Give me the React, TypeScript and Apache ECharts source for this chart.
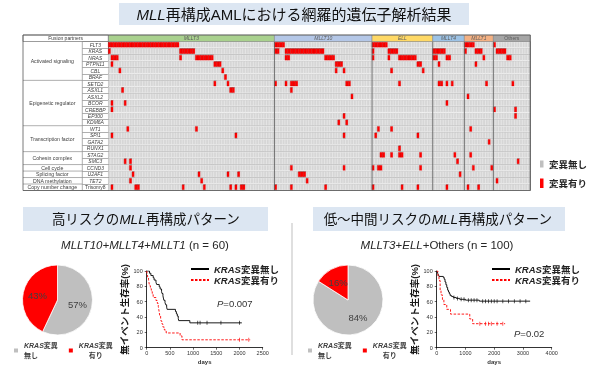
import React, { useEffect, useRef } from 'react';
import * as echarts from 'echarts';

const FONT = "'Liberation Sans', 'Noto Sans CJK JP', sans-serif";

// ---------- Oncoprint data ----------
const genes = ['FLT3', 'KRAS', 'NRAS', 'PTPN11', 'CBL', 'BRAF', 'SETD2', 'ASXL1', 'ASXL2', 'BCOR', 'CREBBP', 'EP300', 'KDM6A', 'WT1', 'SPI1', 'GATA2', 'RUNX1', 'STAG2', 'SMC3', 'CCND3', 'U2AF1', 'TET2', 'Trisomy8'];
const geneGroupNames = ['Activated signaling', 'Epigenetic regulator', 'Transcription factor', 'Cohesin complex', 'Cell cycle', 'Splicing factor', 'DNA methylation', 'Copy number change'];
const geneGroupSizes = [6, 7, 4, 2, 1, 1, 1, 1];

const fusionNames = ['MLLT3', 'MLLT10', 'ELL', 'MLLT4', 'MLLT1', 'Others'];
const fusionCounts = [63, 37, 23, 12, 11, 14];
const fusionColors = ['#a9d18e', '#b4c7e7', '#ffd966', '#9dc3e6', '#f4b183', '#a6a6a6'];

// mutated patient indices per gene (same order as genes)
const mutatedPatients: number[][] = [
  /* FLT3 */ [0, 1, 2, 3, 4, 5, 6, 7, 8, 9, 10, 11, 12, 13, 14, 15, 16, 17, 18, 19, 20, 21, 22, 23, 24, 25, 26, 63, 64, 65, 66, 100, 101, 102, 103, 104, 105, 135, 136, 137, 138, 146],
  /* KRAS */ [0, 27, 28, 29, 30, 31, 32, 63, 64, 67, 68, 69, 70, 71, 72, 73, 74, 75, 76, 77, 78, 79, 80, 81, 100, 106, 107, 108, 109, 123, 124, 125, 126, 127, 135, 139, 140, 141, 147, 148, 149, 150],
  /* NRAS */ [1, 2, 3, 27, 33, 34, 35, 36, 37, 38, 39, 67, 68, 82, 83, 84, 85, 100, 106, 110, 111, 112, 113, 114, 115, 116, 123, 124, 128, 129, 142, 151, 152],
  /* PTPN11 */ [1, 40, 41, 42, 86, 87, 88, 117, 118, 125, 139],
  /* CBL */ [4, 43, 86, 89, 107, 119],
  /* BRAF */ [44],
  /* SETD2 */ [40, 45, 63, 67, 69, 70, 71, 90, 91, 110, 125, 126, 128, 130, 143, 153],
  /* ASXL1 */ [5, 46, 47, 69],
  /* ASXL2 */ [92, 136],
  /* BCOR */ [1, 6, 128],
  /* CREBBP */ [1, 146, 154],
  /* EP300 */ [89, 154],
  /* KDM6A */ [87, 90],
  /* WT1 */ [7, 33, 102, 107, 137],
  /* SPI1 */ [1, 48, 89, 101, 117],
  /* GATA2 */ [144],
  /* RUNX1 */ [110],
  /* STAG2 */ [103, 104, 107, 110, 111, 118, 131, 137],
  /* SMC3 */ [6, 8, 132, 155],
  /* CCND3 */ [8, 69, 89, 100, 102, 103, 118, 138, 145],
  /* U2AF1 */ [9, 34, 45, 49, 72, 73, 74, 133],
  /* TET2 */ [8, 35, 75, 147],
  /* Trisomy8 */ [1, 10, 11, 28, 36, 46, 48, 50, 51, 63, 69, 82, 100, 111, 117, 128, 136, 140],
];

// ---------- Pie data ----------
const pieNames = ['nomut', 'mut'];
const pieColors = ['#bfbfbf', '#ff0000'];
const pieHighRisk = [57, 43];
const pieLowRisk = [84, 16];

// ---------- Kaplan-Meier data (days, % event-free) ----------
const kmHighNoMut = [[0, 100], [60, 97.1], [90, 94.1], [140, 91.2], [160, 88.2], [200, 85.3], [215, 82.4], [270, 79.4], [290, 76.5], [320, 73.5], [330, 70.6], [350, 67.6], [360, 64.7], [370, 61.8], [395, 58.8], [410, 55.9], [430, 52.9], [440, 50], [620, 47.1], [640, 44.1], [660, 41.2], [680, 38.2], [690, 35.3], [930, 32.4], [2050, 32.4]];
const kmHighMut = [[0, 100], [10, 96.2], [20, 92.3], [40, 88.5], [50, 84.6], [60, 80.8], [80, 76.9], [100, 73.1], [120, 69.2], [140, 65.4], [200, 61.5], [230, 57.7], [250, 53.8], [260, 50], [270, 46.2], [280, 42.3], [300, 38.5], [310, 34.6], [330, 30.8], [350, 26.9], [380, 23.1], [420, 19.2], [720, 15.4], [760, 10.3], [2230, 10.3]];
const kmHighNoMutCensor = [[1100, 32.4], [1150, 32.4], [1300, 32.4], [1600, 32.4], [2000, 32.4]];
const kmHighMutCensor = [[2000, 10.3], [2200, 10.3]];

const kmLowNoMut = [[0, 100], [20, 98.8], [40, 96.4], [60, 95.2], [80, 92.9], [230, 91.7], [260, 89.3], [290, 85.7], [320, 82.1], [350, 78.6], [380, 75], [410, 72.6], [440, 70.2], [470, 67.9], [520, 66.7], [580, 65.5], [680, 64.3], [800, 63.1], [1000, 62], [1480, 60.7], [3250, 60.7]];
const kmLowMut = [[0, 100], [40, 93.8], [80, 87.5], [120, 75], [150, 68.8], [200, 62.5], [250, 56.3], [350, 50], [480, 43.8], [1150, 37.5], [1250, 31.3], [2380, 31.3]];
const kmLowNoMutCensor = [[600, 65.5], [720, 64.3], [850, 63.1], [950, 63.1], [1100, 62], [1200, 62], [1300, 62], [1400, 62], [1600, 60.7], [1700, 60.7], [1800, 60.7], [1900, 60.7], [2000, 60.7], [2100, 60.7], [2300, 60.7], [2500, 60.7], [2700, 60.7], [2900, 60.7], [3100, 60.7]];
const kmLowMutCensor = [[1500, 31.3], [1700, 31.3], [1800, 31.3], [1900, 31.3], [2100, 31.3], [2300, 31.3]];

const kmHighTicks = { max: 2500, interval: 500 };
const kmLowTicks = { max: 4000, interval: 1000 };

export default function App() {
  const ref = useRef<HTMLDivElement>(null);

  useEffect(() => {
    const chart = echarts.init(ref.current!, null, { renderer: 'svg' });
    const nPatients = fusionCounts.reduce((a, b) => a + b, 0);
    const patientIds = Array.from({ length: nPatients }, (_, i) => 'P' + (i + 1));

    const cells: number[][] = [];
    genes.forEach((g, r) => {
      const set = new Set(mutatedPatients[r]);
      for (let c = 0; c < nPatients; c++) cells.push([c, r, set.has(c) ? 1 : 0]);
    });

    const fusionData: number[][] = [];
    let acc = 0;
    fusionCounts.forEach((n, i) => { fusionData.push([acc, 0, acc + n - 1, i]); acc += n; });

    const groupData: number[][] = [];
    let rAcc = 0;
    geneGroupSizes.forEach((n, i) => { groupData.push([0, rAcc, rAcc + n - 1, i]); rAcc += n; });

    const kmAxisX = (t: { max: number; interval: number }, gi: number) => ({
      gridIndex: gi, type: 'value', min: 0, max: t.max, interval: t.interval,
      name: 'days', nameLocation: 'middle', nameGap: 11,
      nameTextStyle: { fontSize: 6, fontWeight: 'bold', color: '#333', fontFamily: FONT },
      axisLine: { lineStyle: { color: '#000', width: 0.8 } },
      axisTick: { length: 2, lineStyle: { color: '#000', width: 0.6 } },
      axisLabel: { fontSize: 5.5, color: '#333', margin: 3, fontFamily: FONT, formatter: (v: number) => String(v) },
      splitLine: { show: false },
    });
    const kmAxisY = (gi: number) => ({
      gridIndex: gi, type: 'value', min: 0, max: 100, interval: 20,
      name: '無イベント生存率(%)', nameLocation: 'middle', nameRotate: 90, nameGap: 16,
      nameTextStyle: { fontSize: 9.5, color: '#1a1a1a', fontWeight: 'bold', fontFamily: FONT },
      axisLine: { show: true, lineStyle: { color: '#000', width: 0.8 } },
      axisTick: { show: true, length: 2, lineStyle: { color: '#000', width: 0.6 } },
      axisLabel: { fontSize: 5.5, color: '#333', margin: 4, fontFamily: FONT },
      splitLine: { show: false },
    });

    const kmLine = (name: string, data: number[][], color: string, dashed: boolean, gi: number) => ({
      type: 'line', name, xAxisIndex: gi, yAxisIndex: gi, data, step: 'end', symbol: 'none',
      lineStyle: { color, width: 0.9, type: dashed ? [2.5, 1.5] : 'solid' }, itemStyle: { color }, silent: true,
    });
    const kmCensor = (data: number[][], color: string, gi: number) => ({
      type: 'scatter', name: 'censor', xAxisIndex: gi, yAxisIndex: gi, data, symbol: 'rect', symbolSize: [0.8, 4],
      itemStyle: { color }, silent: true,
    });

    const pie = (center: number[], values: number[]) => ({
      type: 'pie', center, radius: 35, startAngle: 90, clockwise: true, silent: true,
      data: values.map((v, i) => ({ name: pieNames[i], value: v, itemStyle: { color: pieColors[i] } })),
      itemStyle: { borderColor: '#fff', borderWidth: 0.8 },
      label: { position: 'inside', formatter: '{c}%', fontSize: 9.5, color: '#404040', fontFamily: FONT },
      labelLine: { show: false },
    });

    const pieRich = {
      k: { fontStyle: 'italic', fontWeight: 'bold', fontSize: 7, color: '#404040', fontFamily: FONT, lineHeight: 10 },
      t: { fontWeight: 'bold', fontSize: 7, color: '#404040', fontFamily: FONT, lineHeight: 10 },
      c: { fontWeight: 'bold', fontSize: 7, color: '#404040', fontFamily: FONT, lineHeight: 10, align: 'center' },
    };
    const pieLegend = (left: number) => ({
      data: pieNames.map((n, i) => ({ name: n, icon: 'rect', itemStyle: { color: pieColors[i] } })),
      left, top: 342, padding: 0, orient: 'horizontal', itemWidth: 6, itemHeight: 6,
      itemGap: 9, itemTextGap: 3, selectedMode: false,
      formatter: (n: string) => (n === 'nomut' ? '{k|KRAS}{t|変異}\n{t|無し}' : '{k|KRAS}{t|変異}\n{c|有り}'),
      textStyle: { fontSize: 7, fontFamily: FONT, rich: pieRich },
    });
    const kmRich = {
      k: { fontStyle: 'italic', fontWeight: 'bold', fontSize: 9.5, color: '#222', fontFamily: FONT },
      t: { fontWeight: 'bold', fontSize: 9.5, color: '#222', fontFamily: FONT },
    };
    const kmLegend = (left: number, names: string[]) => ({
      data: names, left, top: 263.5, padding: 0, orient: 'vertical', itemWidth: 18, itemHeight: 8, itemGap: 0, itemTextGap: 6,
      selectedMode: false,
      itemStyle: { opacity: 0 },
      formatter: (n: string) => (n.endsWith('no') ? '{k|KRAS}{t|変異無し}' : '{k|KRAS}{t|変異有り}'),
      textStyle: { fontSize: 9.5, fontFamily: FONT, rich: kmRich, lineHeight: 11 },
    });

    const titleRich = {
      i: { fontStyle: 'italic', fontSize: 15, fill: '#111', fontFamily: FONT },
      n: { fontSize: 15, fill: '#111', fontFamily: FONT },
    };
    const subRich = {
      i: { fontStyle: 'italic', fontSize: 13.5, fill: '#111', fontFamily: FONT },
      n: { fontSize: 13.5, fill: '#111', fontFamily: FONT },
    };
    const nRich = {
      i: { fontStyle: 'italic', fontSize: 11.5, fill: '#262626', fontFamily: FONT },
      n: { fontSize: 11.5, fill: '#262626', fontFamily: FONT },
    };
    const pRich = {
      p: { fontStyle: 'italic', fontSize: 9.5, fill: '#333', fontFamily: FONT },
      n: { fontSize: 9.5, fill: '#333', fontFamily: FONT },
    };

    const option: any = {
      animation: false,
      textStyle: { fontFamily: FONT },
      grid: [
        { left: 108.3, top: 41.5, width: 422, height: 149 },
        { left: 146.7, top: 271, width: 116, height: 76.7 },
        { left: 436.7, top: 271, width: 115, height: 76.7 },
      ],
      xAxis: [
        { gridIndex: 0, type: 'category', data: patientIds, show: false },
        kmAxisX(kmHighTicks, 1),
        kmAxisX(kmLowTicks, 2),
      ],
      yAxis: [
        {
          gridIndex: 0, type: 'category', data: genes, inverse: true,
          axisLine: { show: true, lineStyle: { color: '#595959', width: 0.8 } },
          axisTick: { show: true, length: 26, interval: 0, lineStyle: { color: '#8c8c8c', width: 0.7 } },
          axisLabel: {
            interval: 0, margin: 13, align: 'center', fontSize: 5, color: '#404040',
            formatter: (v: string) => (v === 'Trisomy8' ? `{n|${v}}` : `{i|${v}}`),
            rich: {
              i: { fontStyle: 'italic', fontSize: 5, color: '#404040', fontFamily: FONT },
              n: { fontSize: 5, color: '#404040', fontFamily: FONT },
            },
          },
          splitLine: { show: true, interval: 0, lineStyle: { color: '#8c8c8c', width: 0.8 } },
        },
        kmAxisY(1),
        kmAxisY(2),
      ],
      legend: [
        pieLegend(12),
        pieLegend(306),
        kmLegend(190, ['kmH_no', 'kmH_mut']),
        kmLegend(491, ['kmL_no', 'kmL_mut']),
      ],
      series: [
        {
          type: 'custom', name: 'cells', xAxisIndex: 0, yAxisIndex: 0, data: cells, z: 2, silent: true,
          renderItem: (params: any, api: any) => {
            const p = api.coord([api.value(0), api.value(1)]);
            const s = api.size([1, 1]);
            const mut = api.value(2) === 1;
            const inset = mut ? 0.8 : 0.45;
            return {
              type: 'rect',
              shape: { x: p[0] - s[0] / 2, y: p[1] - s[1] / 2 + inset, width: s[0], height: s[1] - 2 * inset },
              style: { fill: mut ? '#ff0000' : '#d6d6d6', stroke: mut ? '#c00000' : '#e9e9e9', lineWidth: mut ? 0.4 : 0.5 },
            };
          },
        },
        {
          type: 'custom', name: 'fusion', xAxisIndex: 0, yAxisIndex: 0, data: fusionData, z: 4, silent: true,
          renderItem: (params: any, api: any) => {
            const fi = api.value(3);
            const a = api.coord([api.value(0), 0]);
            const b = api.coord([api.value(2), 0]);
            const sz = api.size([1, 1]);
            const x0 = a[0] - sz[0] / 2;
            const x1 = b[0] + sz[0] / 2;
            const top = a[1] - sz[1] / 2;
            const bottom = api.coord([api.value(0), genes.length - 1])[1] + sz[1] / 2;
            const name = fusionNames[fi];
            return {
              type: 'group',
              children: [
                { type: 'rect', shape: { x: x0, y: top - 6.5, width: x1 - x0, height: 6.5 }, style: { fill: fusionColors[fi], stroke: '#7f7f7f', lineWidth: 0.5 } },
                { type: 'text', style: { text: name, x: (x0 + x1) / 2, y: top - 3.1, align: 'center', verticalAlign: 'middle', fontSize: 5, fontStyle: name === 'Others' ? 'normal' : 'italic', fill: '#5a5a5a', fontFamily: FONT } },
                { type: 'line', shape: { x1, y1: top, x2: x1, y2: bottom }, style: { stroke: '#595959', lineWidth: 0.8 } },
              ],
            };
          },
        },
        {
          type: 'custom', name: 'geneGroups', xAxisIndex: 0, yAxisIndex: 0, data: groupData, z: 4, silent: true,
          renderItem: (params: any, api: any) => {
            const gi = api.value(3);
            const p0 = api.coord([0, api.value(1)]);
            const p1 = api.coord([0, api.value(2)]);
            const s = api.size([1, 1]);
            const gridLeft = p0[0] - s[0] / 2;
            const yTop = p0[1] - s[1] / 2;
            const yBot = p1[1] + s[1] / 2;
            return {
              type: 'group',
              children: [
                { type: 'text', style: { text: geneGroupNames[gi], x: gridLeft - 56, y: (yTop + yBot) / 2, align: 'center', verticalAlign: 'middle', fontSize: 5.2, fill: '#404040', fontFamily: FONT } },
                { type: 'line', shape: { x1: gridLeft - 85.3, y1: yBot, x2: gridLeft - 26, y2: yBot }, style: { stroke: '#8c8c8c', lineWidth: 0.7 } },
              ],
            };
          },
        },
        pie([57.5, 300], pieHighRisk),
        pie([348, 300], pieLowRisk),
        kmLine('kmH_no', kmHighNoMut, '#000000', false, 1),
        kmLine('kmH_mut', kmHighMut, '#ff0000', true, 1),
        kmCensor(kmHighNoMutCensor, '#000000', 1),
        kmCensor(kmHighMutCensor, '#ff0000', 1),
        kmLine('kmL_no', kmLowNoMut, '#000000', false, 2),
        kmLine('kmL_mut', kmLowMut, '#ff0000', true, 2),
        kmCensor(kmLowNoMutCensor, '#000000', 2),
        kmCensor(kmLowMutCensor, '#ff0000', 2),
      ],
      graphic: [
        { type: 'rect', shape: { x: 119, y: 3, width: 350, height: 22 }, style: { fill: '#dce6f2' }, z: 1 },
        { type: 'text', x: 294, y: 14.5, z: 2, style: { text: '{i|MLL}{n|再構成AMLにおける網羅的遺伝子解析結果}', rich: titleRich, align: 'center', verticalAlign: 'middle', fontSize: 15, fontFamily: FONT } },
        { type: 'rect', shape: { x: 23, y: 207, width: 245, height: 24 }, style: { fill: '#dce6f2' }, z: 1 },
        { type: 'text', x: 146, y: 219.5, z: 2, style: { text: '{n|高リスクの}{i|MLL}{n|再構成パターン}', rich: subRich, align: 'center', verticalAlign: 'middle', fontSize: 13.5, fontFamily: FONT } },
        { type: 'rect', shape: { x: 313, y: 207, width: 252, height: 24 }, style: { fill: '#dce6f2' }, z: 1 },
        { type: 'text', x: 438, y: 219.5, z: 2, style: { text: '{n|低～中間リスクの}{i|MLL}{n|再構成パターン}', rich: subRich, align: 'center', verticalAlign: 'middle', fontSize: 13.5, fontFamily: FONT } },
        { type: 'text', x: 145, y: 245, z: 2, style: { text: '{i|MLLT10+MLLT4+MLLT1}{n| (n = 60)}', rich: nRich, align: 'center', verticalAlign: 'middle', fontSize: 11.5, fontFamily: FONT } },
        { type: 'text', x: 437, y: 245, z: 2, style: { text: '{i|MLLT3}{n|+}{i|ELL}{n|+Others (n = 100)}', rich: nRich, align: 'center', verticalAlign: 'middle', fontSize: 11.5, fontFamily: FONT } },
        { type: 'line', shape: { x1: 292, y1: 223, x2: 292, y2: 355 }, style: { stroke: '#bfbfbf', lineWidth: 1 }, z: 1 },
        // oncoprint frame
        { type: 'rect', shape: { x: 23, y: 35, width: 85.3, height: 6.5 }, style: { fill: '#ffffff', stroke: '#595959', lineWidth: 0.6 }, z: 5 },
        { type: 'text', x: 65.6, y: 38.4, z: 6, style: { text: 'Fusion partners', align: 'center', verticalAlign: 'middle', fontSize: 5, fill: '#404040', fontFamily: FONT } },
        { type: 'line', shape: { x1: 82.3, y1: 41.5, x2: 82.3, y2: 190.5 }, style: { stroke: '#8c8c8c', lineWidth: 0.7 }, z: 5 },
        { type: 'rect', shape: { x: 23, y: 35, width: 507.3, height: 155.5 }, style: { fill: 'none', stroke: '#595959', lineWidth: 0.8 }, z: 6 },
        // oncoprint legend
        { type: 'rect', shape: { x: 540, y: 160.5, width: 3.5, height: 7 }, style: { fill: '#bfbfbf' } },
        { type: 'text', x: 549, y: 164, style: { text: '変異無し', verticalAlign: 'middle', fontSize: 9.5, fontWeight: 'bold', fill: '#262626', fontFamily: FONT } },
        { type: 'rect', shape: { x: 540, y: 178.5, width: 3.5, height: 9.5 }, style: { fill: '#ff0000' } },
        { type: 'text', x: 549, y: 183.5, style: { text: '変異有り', verticalAlign: 'middle', fontSize: 9.5, fontWeight: 'bold', fill: '#262626', fontFamily: FONT } },
        // p values
        { type: 'text', x: 217, y: 303, style: { text: '{p|P}{n|=0.007}', rich: pRich, verticalAlign: 'middle', fontSize: 9.5 } },
        { type: 'text', x: 514, y: 333, style: { text: '{p|P}{n|=0.02}', rich: pRich, verticalAlign: 'middle', fontSize: 9.5 } },
      ],
    };

    chart.setOption(option);
    return () => chart.dispose();
  }, []);

  return <div ref={ref} style={{ position: 'fixed', left: 0, top: 0, width: 600, height: 372 }} />;
}
